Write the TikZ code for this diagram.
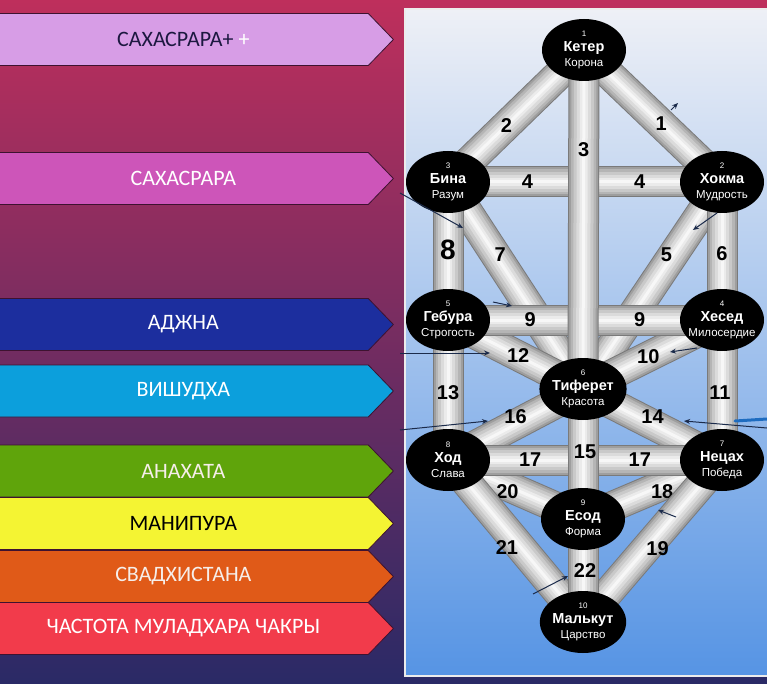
\documentclass[tikz,border=0pt]{standalone}
\usepackage{fontspec}
\setmainfont{Liberation Sans}
\newfontfamily\bannerfont{Carlito}
\usetikzlibrary{shapes.geometric,shapes.symbols,arrows.meta}

% colours
\definecolor{bgtop}{HTML}{BE2F5C}
\definecolor{bgmid}{HTML}{7C3A88}
\definecolor{bgbot}{HTML}{2A2A66}
\definecolor{paneltop}{HTML}{EEF0F6}
\definecolor{panelmid}{HTML}{BCD6F2}
\definecolor{panelbot}{HTML}{5694E4}
\definecolor{bannerline}{HTML}{3E1230}
\definecolor{crownlight}{HTML}{D79DE6}
\definecolor{crown}{HTML}{CD55B9}
\definecolor{ajnac}{HTML}{1C2E9E}
\definecolor{vishc}{HTML}{0C9FDC}
\definecolor{anahc}{HTML}{5FA40B}
\definecolor{manic}{HTML}{F4F433}
\definecolor{svadc}{HTML}{E05A18}
\definecolor{mulac}{HTML}{F23B4B}
\definecolor{navytext}{HTML}{1C1840}
\definecolor{softwhite}{HTML}{F6EEEA}
\definecolor{penblue}{HTML}{1B2B4B}
\definecolor{markblue}{HTML}{1E6CC0}

\pgfdeclarelayer{bg}
\pgfdeclarelayer{tubes}
\pgfsetlayers{bg,tubes,main}

\newcommand{\sefira}[3]{{\fontsize{8}{9}\selectfont #1}\\{\fontsize{14.5}{15}\selectfont\bfseries #2}\\\makebox[0pt]{#3}}

\tikzset{
  banner/.style={signal, signal to=east, signal pointer angle=92, draw=bannerline, line width=0.8pt,
    minimum width=395pt, minimum height=52pt, inner sep=0pt, anchor=west,
    font=\bannerfont\fontsize{22}{26}\selectfont},
  sefira/.style={ellipse, fill=black, text=white, minimum width=84pt, minimum height=62pt,
    inner sep=0pt, align=center, font=\fontsize{11.5}{15}\selectfont},
  tube/.style={line width=31pt, draw=black!52,
    postaction={draw=black!38, line width=29pt},
    postaction={draw=black!29, line width=25pt},
    postaction={draw=black!21, line width=20pt},
    postaction={draw=black!14, line width=14pt},
    postaction={draw=black!8, line width=8pt},
    postaction={draw=black!3, line width=3pt}},
  pathno/.style={font=\bfseries\fontsize{20}{20}\selectfont, text=black, inner sep=0pt},
  pen/.style={draw=penblue, line width=1pt, -{Stealth[length=6pt,width=5pt]}}
}

\begin{document}
\begin{tikzpicture}[x=1pt,y=-1pt]
	\useasboundingbox (0,0) rectangle (767,684);

	% Background and panel
	\begin{pgfonlayer}{bg}
	\shade[top color=bgtop, middle color=bgmid, bottom color=bgbot] (0,0) rectangle (767,684);
	\shade[draw=white!85!gray, line width=1.5pt, top color=paneltop, middle color=panelmid, bottom color=panelbot] (405,9) rectangle (770,676);
	\end{pgfonlayer}

	% Chakra banners
	\foreach \name/\ypos/\fillc/\textc/\txt in {
		sahasraraplus/39.5/crownlight/navytext/{САХАСРАРА+ \textcolor{white}{+}},
		sahasrara/178.5/crown/white/САХАСРАРА,
		ajna/324.5/ajnac/white/АДЖНА,
		vishuddha/391/vishc/white/ВИШУДХА,
		anahata/471/anahc/softwhite/АНАХАТА,
		manipura/523.5/manic/black/МАНИПУРА,
		svadhisthana/576.5/svadc/softwhite/СВАДХИСТАНА,
		muladhara/628.5/mulac/white/ЧАСТОТА МУЛАДХАРА ЧАКРЫ}
	\node[banner, fill=\fillc, text=\textc] (\name) at (-2,\ypos) {\txt};

	% Sefirot
	\node[sefira] (keter)   at (584,50)  {\sefira{1}{Кетер}{Корона}};
	\node[sefira] (hokma)   at (722,182) {\sefira{2}{Хокма}{Мудрость}};
	\node[sefira] (bina)    at (448,182) {\sefira{3}{Бина}{Разум}};
	\node[sefira] (hesed)   at (722,320) {\sefira{4}{Хесед}{Милосердие}};
	\node[sefira] (gebura)  at (448,320) {\sefira{5}{Гебура}{Строгость}};
	\node[sefira] (tiferet) at (583,389) {\sefira{6}{Тиферет}{Красота}};
	\node[sefira] (netzah)  at (722,460) {\sefira{7}{Нецах}{Победа}};
	\node[sefira] (hod)     at (448,460) {\sefira{8}{Ход}{Слава}};
	\node[sefira] (yesod)   at (583,519) {\sefira{9}{Есод}{Форма}};
	\node[sefira] (malkut)  at (583,622) {\sefira{10}{Малькут}{Царство}};

	% Paths
	\begin{pgfonlayer}{tubes}
	% diagonals
	\draw[tube] (keter.center) -- (hokma.center) node[pathno, pos=0.56] {1};
	\draw[tube] (keter.center) -- (bina.center) node[pathno, pos=0.57] {2};
	\draw[tube] (hokma.center) -- (tiferet.center) node[pathno, pos=0.35, xshift=-7pt] {5};
	\draw[tube] (bina.center) -- (tiferet.center) node[pathno, pos=0.35, xshift=5pt] {7};
	\draw[tube] (hesed.center) -- (tiferet.center) node[pathno, pos=0.53] {10};
	\draw[tube] (gebura.center) -- (tiferet.center) node[pathno, pos=0.52] {12};
	\draw[tube] (tiferet.center) -- (netzah.center) node[pathno, pos=0.5, yshift=8pt] {14};
	\draw[tube] (tiferet.center) -- (hod.center) node[pathno, pos=0.5, yshift=8pt] {16};
	\draw[tube] (netzah.center) -- (yesod.center) node[pathno, pos=0.43, yshift=-6pt] {18};
	\draw[tube] (hod.center) -- (yesod.center) node[pathno, pos=0.44, yshift=-6pt] {20};
	\draw[tube] (netzah.center) -- (malkut.center) node[pathno, pos=0.55, xshift=12pt] {19};
	\draw[tube] (hod.center) -- (malkut.center) node[pathno, pos=0.54, xshift=-14pt] {21};
	% horizontals
	\draw[tube] (bina.center) -- (hokma.center) node[pathno, pos=0.29] {4} node[pathno, pos=0.7] {4};
	\draw[tube] (gebura.center) -- (hesed.center) node[pathno, pos=0.3] {9} node[pathno, pos=0.7] {9};
	\draw[tube] (hod.center) -- (netzah.center) node[pathno, pos=0.3] {17} node[pathno, pos=0.7] {17};
	% verticals
	\draw[tube] (bina.center) -- (gebura.center) node[pathno, pos=0.49, font=\bfseries\fontsize{28}{28}\selectfont] {8};
	\draw[tube] (hokma.center) -- (hesed.center) node[pathno, pos=0.52] {6};
	\draw[tube] (gebura.center) -- (hod.center) node[pathno, pos=0.52] {13};
	\draw[tube] (hesed.center) -- (netzah.center) node[pathno, pos=0.52, xshift=-2pt] {11};
	\draw[tube] (keter.center) -- (tiferet.center) node[pathno, pos=0.295] {3};
	\draw[tube] (tiferet.center) -- (yesod.center) node[pathno, pos=0.48, xshift=2pt] {15};
	\draw[tube] (yesod.center) -- (malkut.center) node[pathno, pos=0.5, xshift=2pt] {22};
	\end{pgfonlayer}

	% Pen marks
	\foreach \i/\sx/\sy/\ex/\ey in {1/400/193/463/228, 2/717/213/693/230, 3/493/302/512/306,
		4/400/353/490/353, 5/697/348/670/352, 6/400/430/488/421, 7/767/428/684/421,
		8/533/594/568/576, 9/671/110/678/103, 10/676/517/658/510} {
		\coordinate (pen\i s) at (\sx,\sy);
		\coordinate (pen\i e) at (\ex,\ey);
		\draw[pen] (pen\i s) -- (pen\i e);
	}
	\coordinate (marks) at (735,421);
	\coordinate (marke) at (767,419);
	\draw[markblue, line width=3pt, line cap=round] (marks) -- (marke);
\end{tikzpicture}
\end{document}
